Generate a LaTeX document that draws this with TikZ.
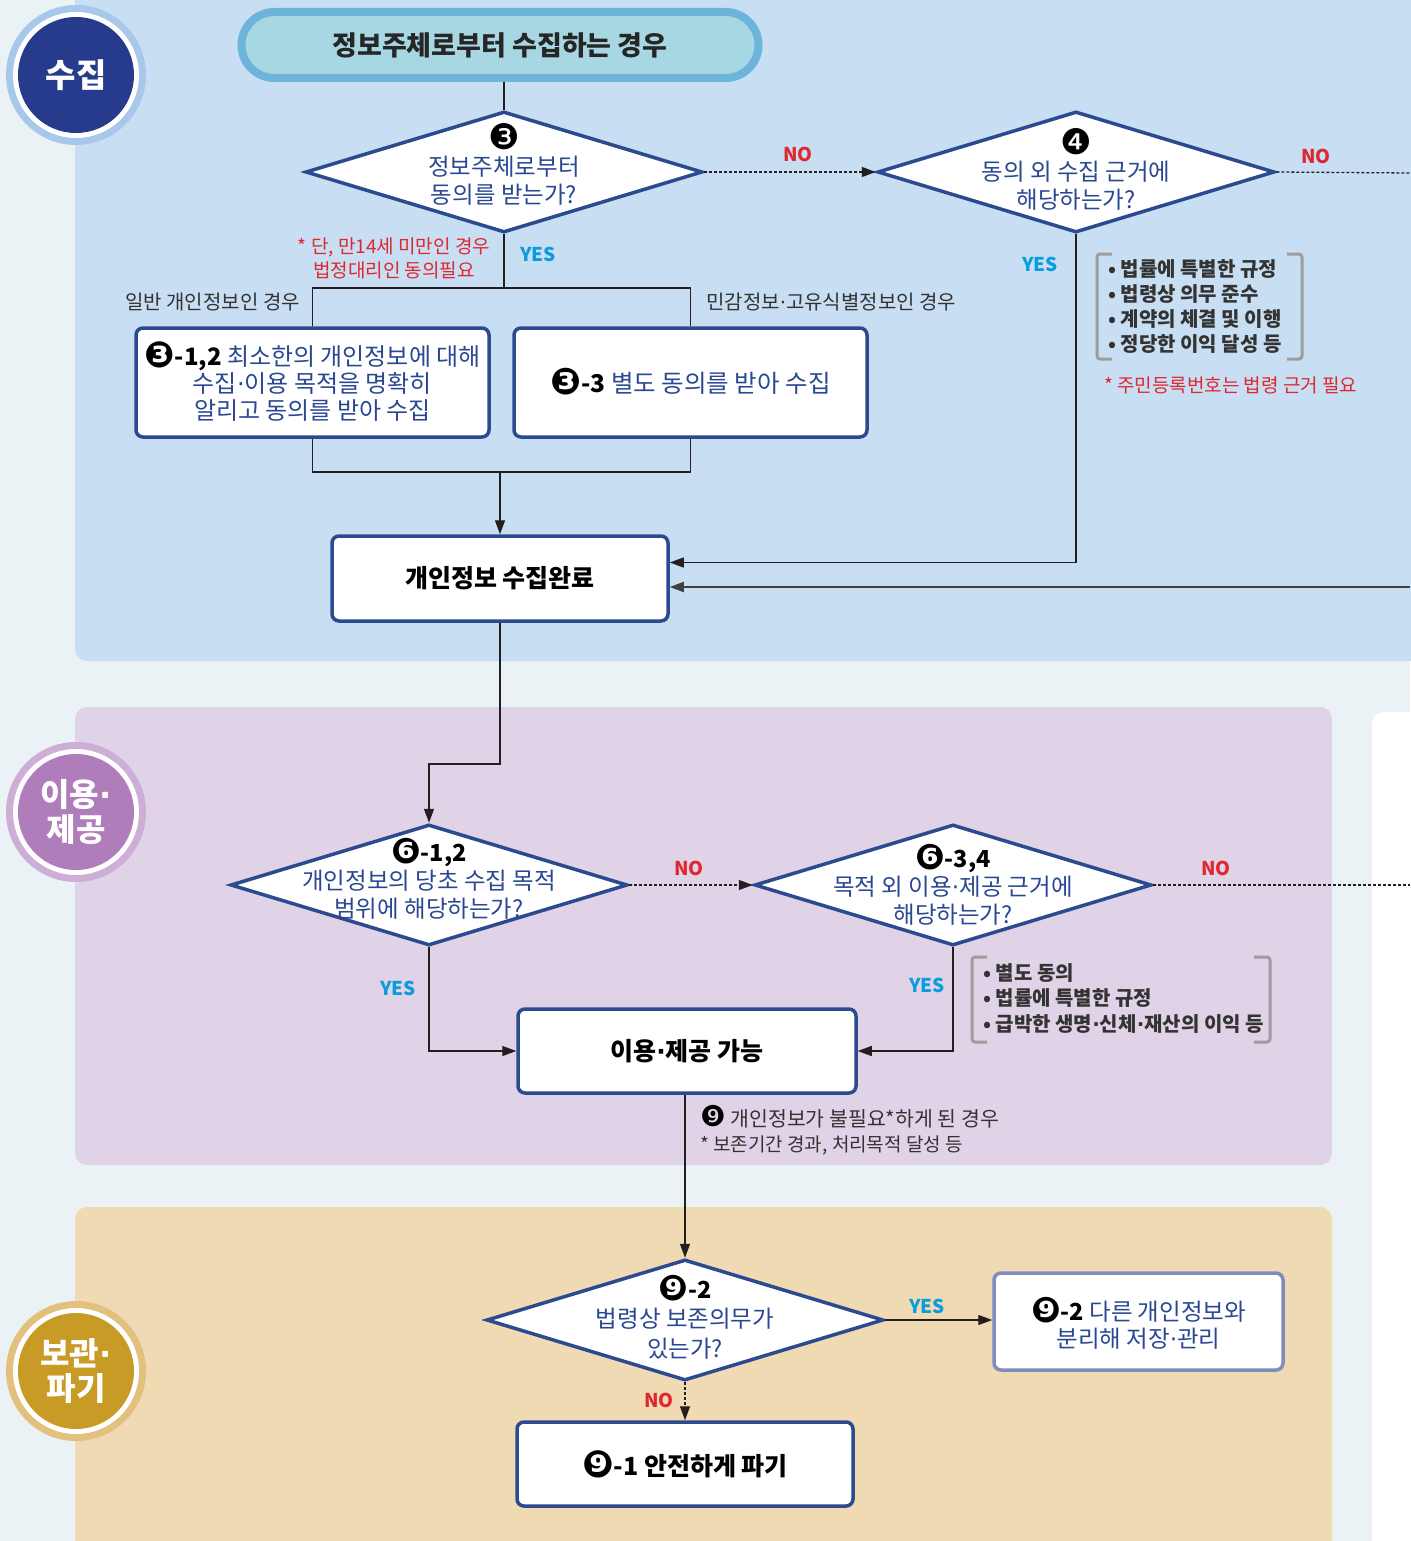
\documentclass[tikz,border=0pt]{standalone}
\usepackage{fontspec}
\setmainfont{Noto Sans CJK KR}
\newfontfamily\dv{DejaVu Sans}
\usetikzlibrary{arrows.meta,shapes.geometric}
\newcommand\cnum[1]{\textcolor{black}{\raisebox{-2pt}{\scalebox{1.5}{\dv #1}}}}
\newcommand\cnumS[1]{\textcolor{black}{\scalebox{1.4}{\dv #1}}}
\newcommand\md{{\dv ·}}
\definecolor{pagebg}{HTML}{EAF2F6}
\definecolor{blueP}{HTML}{C8DEF2}
\definecolor{purpP}{HTML}{E1D3E7}
\definecolor{beigeP}{HTML}{F0DAB3}
\definecolor{navy}{HTML}{263B8B}
\definecolor{navyring}{HTML}{A7C8EA}
\definecolor{purpB}{HTML}{AF7DB9}
\definecolor{purpring}{HTML}{CDAED6}
\definecolor{goldB}{HTML}{C89A26}
\definecolor{goldring}{HTML}{E2C07E}
\definecolor{bordc}{HTML}{2C4A8F}
\definecolor{bordl}{HTML}{7E8DBE}
\definecolor{textb}{HTML}{2A4892}
\definecolor{redc}{HTML}{E0262E}
\definecolor{cyanc}{HTML}{0A9DDB}
\definecolor{grayb}{HTML}{9D9D9D}
\definecolor{linec}{HTML}{231F20}
\definecolor{pillout}{HTML}{6CB4D9}
\definecolor{pillin}{HTML}{A8D7E4}
\definecolor{labc}{HTML}{333333}
\begin{document}
\begin{tikzpicture}[x=1pt,y=-1pt,
  dia/.style={shape=diamond, draw=bordc, fill=white, line width=3.5pt, minimum width=397pt, minimum height=121pt, inner sep=0pt},
  boxn/.style={draw=bordc, fill=white, line width=3.5pt, rounded corners=7pt, inner sep=0pt},
  dtext/.style={font=\fontsize{23.5}{28}\selectfont, text=textb, align=center, inner sep=0pt},
  btext/.style={font=\fontsize{25}{27}\selectfont\bfseries, text=black, align=center, inner sep=0pt},
  lab/.style={font=\fontsize{20}{24}\selectfont, text=labc, inner sep=0pt},
  rednote/.style={font=\fontsize{19}{24}\selectfont, text=redc, inner sep=0pt},
  yes/.style={font=\fontsize{19}{22}\selectfont\bfseries, text=cyanc, inner sep=0pt},
  no/.style={font=\fontsize{19}{22}\selectfont\bfseries, text=redc, inner sep=0pt},
  items/.style={font=\fontsize{20}{25}\selectfont\bfseries, text=labc, align=left, inner sep=0pt, anchor=west},
  badgetxt/.style={font=\fontsize{33}{35}\selectfont\bfseries, text=white, align=center, inner sep=0pt},
  conn/.style={draw=linec, line width=1.3pt},
  arr/.style={conn, -{Triangle[length=14pt,width=10pt]}},
  dotline/.style={conn, dash pattern=on 3pt off 2pt},
  dotarr/.style={dotline, -{Triangle[length=14pt,width=10pt]}},
  brk/.style={draw=grayb, line width=3pt, rounded corners=3pt}
]
\useasboundingbox (0,0) rectangle (1410,1541);
% backgrounds
\fill[pagebg] (0,0) rectangle (1410,1541);
\fill[blueP, rounded corners=12pt] (75,-20) rectangle (1430,661);
\fill[purpP, rounded corners=12pt] (75,707) rectangle (1332,1165);
\fill[beigeP, rounded corners=12pt] (75,1207) rectangle (1332,1570);
\fill[white, rounded corners=12pt] (1372,712) rectangle (1430,1570);

% badges
\fill[navyring] (76,75) circle (70);
\fill[white] (76,75) circle (63);
\fill[navy] (76,75) circle (58);
\node[badgetxt] (bg1) at (76,75) {수집};
\fill[purpring] (76,812) circle (70);
\fill[white] (76,812) circle (63);
\fill[purpB] (76,812) circle (58);
\node[badgetxt, font=\fontsize{32}{35}\selectfont\bfseries] (bg2) at (76,812) {이용\md\\제공};
\fill[goldring] (76,1371) circle (70);
\fill[white] (76,1371) circle (63);
\fill[goldB] (76,1371) circle (58);
\node[badgetxt, font=\fontsize{32}{35}\selectfont\bfseries] (bg3) at (76,1371) {보관\md\\파기};

% title
\node[draw=pillout, fill=pillin, line width=8pt, rounded corners=33pt, minimum width=517pt, minimum height=66pt, inner sep=0pt,
      font=\fontsize{27}{30}\selectfont\bfseries, text=black!85] (title) at (500,45) {정보주체로부터 수집하는 경우};

% diamonds
\node[dia] (d3) at (504,172) {};
\node[dtext] (d3t) at (504,164) {\cnum{❸}\\정보주체로부터\\동의를 받는가?};
\node[dia] (d4) at (1076,172) {};
\node[dtext] (d4t) at (1076,169) {\cnum{❹}\\동의 외 수집 근거에\\해당하는가?};
\node[dia] (d61) at (429,885) {};
\node[dtext] (d61t) at (429,879) {\textcolor{black}{\bfseries\cnum{❻}-1,2}\\개인정보의 당초 수집 목적\\범위에 해당하는가?};
\node[dia] (d63) at (953,885) {};
\node[dtext] (d63t) at (953,885) {\textcolor{black}{\bfseries\cnum{❻}-3,4}\\목적 외 이용\md 제공 근거에\\해당하는가?};
\node[dia] (d92) at (685,1320) {};
\node[dtext, font=\fontsize{23.5}{29.5}\selectfont] (d92t) at (685,1317) {\textcolor{black}{\bfseries\cnum{❾}-2}\\법령상 보존의무가\\있는가?};

% boxes
\node[boxn, minimum width=353pt, minimum height=109pt] (b31) at (312.5,382.5) {};
\node[dtext, font=\fontsize{24}{27}\selectfont] (b31t) at (312.5,382) {\textcolor{black}{\bfseries\cnum{❸}-1,2} 최소한의 개인정보에 대해\\수집\md 이용 목적을 명확히\\알리고 동의를 받아 수집};
\node[boxn, minimum width=353pt, minimum height=109pt] (b33) at (690.5,382.5) {};
\node[dtext, font=\fontsize{24.5}{27}\selectfont] (b33t) at (690.5,382) {\textcolor{black}{\bfseries\cnum{❸}-3} 별도 동의를 받아 수집};
\node[boxn, minimum width=336pt, minimum height=85pt, btext] (done) at (500,578.5) {개인정보 수집완료};
\node[boxn, minimum width=338pt, minimum height=84pt, btext] (ok) at (687,1051) {이용\md 제공 가능};
\node[boxn, minimum width=336pt, minimum height=84pt, btext] (b91) at (685,1464) {\cnum{❾}-1 안전하게 파기};
\node[boxn, draw=bordl, minimum width=289pt, minimum height=97pt] (b92) at (1138.5,1321.5) {};
\node[dtext, font=\fontsize{23.5}{27}\selectfont] (b92t) at (1138.5,1323) {\textcolor{black}{\bfseries\cnum{❾}-2} 다른 개인정보와\\분리해 저장\md 관리};

% labels
\node[no] (no1) at (798,154) {NO};
\node[no] (no2) at (1316,156) {NO};
\node[yes] (yes1) at (538,254) {YES};
\node[yes] (yes2) at (1040,264) {YES};
\node[rednote, align=center] (note1) at (394,258) {* 단, 만14세 미만인 경우\\법정대리인 동의필요};
\node[lab, anchor=east] (lab1) at (300,302) {일반 개인정보인 경우};
\node[lab, anchor=west] (lab2) at (706,302) {민감정보\md 고유식별정보인 경우};
\node[rednote, anchor=west] (note2) at (1104,385) {* 주민등록번호는 법령 근거 필요};
\node[items] (list1) at (1108,307) {• 법률에 특별한 규정\\• 법령상 의무 준수\\• 계약의 체결 및 이행\\• 정당한 이익 달성 등};
\draw[brk] (1112,254) -- (1097,254) -- (1097,359) -- (1112,359);
\draw[brk] (1287,254) -- (1302,254) -- (1302,359) -- (1287,359);

\node[no] (no3) at (689,868) {NO};
\node[no] (no4) at (1216,868) {NO};
\node[yes] (yes3) at (398,988) {YES};
\node[yes] (yes4) at (927,985) {YES};
\node[items, font=\fontsize{20}{25.5}\selectfont\bfseries] (list2) at (983,998.5) {• 별도 동의\\• 법률에 특별한 규정\\• 급박한 생명\md 신체\md 재산의 이익 등};
\draw[brk] (987,957) -- (972,957) -- (972,1042) -- (987,1042);
\draw[brk] (1254,957) -- (1270,957) -- (1270,1042) -- (1254,1042);

\node[lab, anchor=west, font=\fontsize{20.5}{24}\selectfont] (ann1) at (700,1117) {\cnumS{❾} 개인정보가 불필요*하게 된 경우};
\node[lab, anchor=west, font=\fontsize{19}{24}\selectfont] (ann2) at (700,1145) {* 보존기간 경과, 처리목적 달성 등};

\node[yes] (yes5) at (927,1306) {YES};
\node[no] (no5) at (659,1400) {NO};

% coordinates
\coordinate (split1) at (504,288);
\coordinate (join1) at (500,472);
\coordinate (out1) at (1410,173);
\coordinate (in1) at (1410,587);
\coordinate (bend1) at (429,764);
\coordinate (out2) at (1410,885);

% connectors
\draw[conn] (title.south -| d3.north) -- (d3.north);
\draw[conn] (d3.south) -- (split1);
\draw[conn] (b31.north) |- (split1) -| (b33.north);
\draw[conn] (b31.south) |- (join1) -| (b33.south);
\draw[arr] (join1) -- (done.north);
\draw[dotarr] (d3.east) -- (d4.west);
\draw[dotline] (d4.east) -- (out1);
\draw[arr] (d4.south) |- ([yshift=16pt]done.east);
\draw[arr, line width=1.8pt, draw=black!75] (in1) -- (done.east |- in1);
\draw[arr] (done.south) |- (bend1) -- (d61.north);
\draw[dotarr] (d61.east) -- (d63.west);
\draw[dotline] (d63.east) -- (out2);
\draw[arr] (d61.south) |- (ok.west);
\draw[arr] (d63.south) |- (ok.east);
\draw[arr] (ok.south -| d92.north) -- (d92.north);
\draw[arr] (d92.east) -- (d92.east -| b92.west);
\draw[dotarr] (d92.south) -- (b91.north);
\end{tikzpicture}
\end{document}
